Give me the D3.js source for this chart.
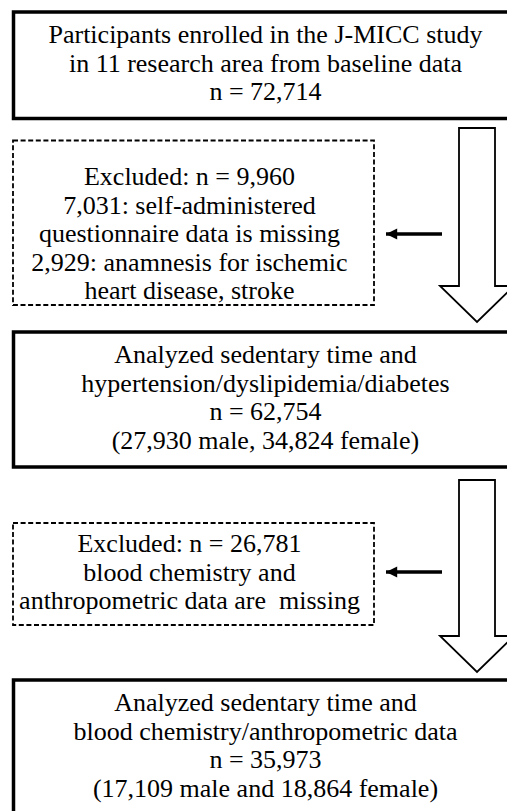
<!DOCTYPE html>
<html>
<head>
<meta charset="utf-8">
<script src="https://cdn.jsdelivr.net/npm/d3@7"></script>
<style>
  html, body { margin: 0; padding: 0; background: #fff; }
  svg { display: block; }
  .lbl { font-family: 'Liberation Serif', 'Times New Roman', Tinos, 'DejaVu Serif', serif; font-size: 26px; }
</style>
</head>
<body>
<div id="chart"></div>
<script>
// flow steps (text lines of each box)
const enrolledLines = [
  'Participants enrolled in the J-MICC study',
  'in 11 research area from baseline data',
  'n = 72,714'
];
const excluded1Lines = [
  'Excluded: n = 9,960',
  '7,031: self-administered',
  'questionnaire data is missing',
  '2,929: anamnesis for ischemic',
  'heart disease, stroke'
];
const analyzed1Lines = [
  'Analyzed sedentary time and',
  'hypertension/dyslipidemia/diabetes',
  'n = 62,754',
  '(27,930 male, 34,824 female)'
];
const excluded2Lines = [
  'Excluded: n = 26,781',
  'blood chemistry and',
  'anthropometric data are  missing'
];
const analyzed2Lines = [
  'Analyzed sedentary time and',
  'blood chemistry/anthropometric data',
  'n = 35,973',
  '(17,109 male and 18,864 female)'
];

const width = 507, height = 811;
const svg = d3.select('#chart').append('svg')
  .attr('width', width)
  .attr('height', height);

const lineH = 28.6;

const boxes = [
  { lines: enrolledLines,  x: 13.5, y: 12,  w: 504, h: 106.5, dashed: false, first: 43 },
  { lines: excluded1Lines, x: 13, y: 140.5, w: 361, h: 164.5, dashed: true,  first: 185 },
  { lines: analyzed1Lines, x: 13.5, y: 332, w: 504, h: 135, dashed: false, first: 363 },
  { lines: excluded2Lines, x: 13, y: 523, w: 361, h: 102, dashed: true,  first: 552 },
  { lines: analyzed2Lines, x: 13.5, y: 680, w: 504, h: 140, dashed: false, first: 711 }
];

const g = svg.selectAll('.box')
  .data(boxes)
  .join('g')
  .classed('box', true);

g.append('rect')
  .attr('x', d => d.x)
  .attr('y', d => d.y)
  .attr('width', d => d.w)
  .attr('height', d => d.h)
  .attr('fill', 'none')
  .attr('stroke', '#000')
  .attr('stroke-width', d => d.dashed ? 1.8 : 3.5)
  .attr('stroke-dasharray', d => d.dashed ? '5,2.6' : null);

g.append('text')
  .attr('class', 'lbl')
  .attr('text-anchor', 'middle')
  .attr('fill', '#000')
  .style('white-space', 'pre')
  .selectAll('tspan')
  .data(d => d.lines.map((t, i) => ({ t, i, b: d })))
  .join('tspan')
    .attr('x', d => d.b.x + d.b.w / 2 - (d.b.dashed ? 4 : 0))
    .attr('y', d => d.b.first + d.i * lineH)
    .text(d => d.t);

// big hollow down arrows
const downArrows = [
  { top: 128, base: 286, tip: 322 },
  { top: 480, base: 636, tip: 672 }
];
const cx = 477, shaftHalf = 18, headHalf = 37;
svg.selectAll('.down')
  .data(downArrows)
  .join('path')
  .classed('down', true)
  .attr('d', d => d3.line()([
    [cx - shaftHalf, d.top], [cx + shaftHalf, d.top], [cx + shaftHalf, d.base],
    [cx + headHalf, d.base], [cx, d.tip], [cx - headHalf, d.base],
    [cx - shaftHalf, d.base]
  ]) + 'Z')
  .attr('fill', '#fff')
  .attr('stroke', '#000')
  .attr('stroke-width', 1.8);

// small side arrows to exclusion boxes
svg.append('defs').append('marker')
  .attr('id', 'head')
  .attr('viewBox', '0 0 10 10')
  .attr('refX', 10).attr('refY', 5)
  .attr('markerWidth', 3.4).attr('markerHeight', 3.2)
  .attr('markerUnits', 'strokeWidth')
  .attr('orient', 'auto')
  .append('path')
  .attr('d', 'M0,0L10,5L0,10Z')
  .attr('fill', '#000');

const sideArrows = [234, 572];
svg.selectAll('.side')
  .data(sideArrows)
  .join('line')
  .classed('side', true)
  .attr('x1', 442).attr('x2', 386)
  .attr('y1', d => d).attr('y2', d => d)
  .attr('stroke', '#000')
  .attr('stroke-width', 3.5)
  .attr('marker-end', 'url(#head)');
</script>
</body>
</html>
